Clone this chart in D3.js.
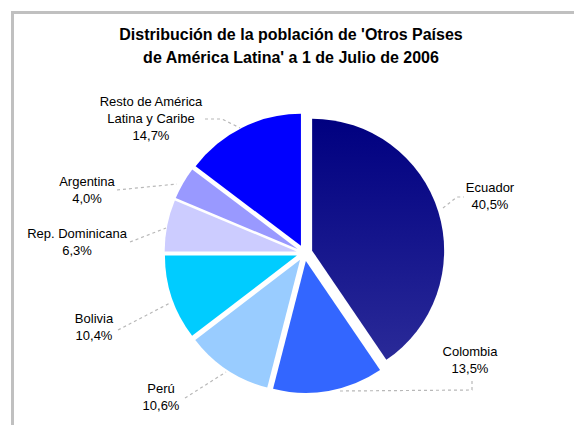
<!DOCTYPE html>
<html>
<head>
<meta charset="utf-8">
<script src="https://cdn.jsdelivr.net/npm/d3@7"></script>
<style>
  body { margin: 0; background: #fff; }
  text { font-family: "Liberation Sans", Arial, sans-serif; fill: #000; }
</style>
</head>
<body>
<div id="chart"></div>
<script>
const countries = ['Ecuador', 'Colombia', 'Perú', 'Bolivia', 'Rep. Dominicana', 'Argentina', 'Resto de América Latina y Caribe']
const shares = [40.5, 13.5, 10.6, 10.4, 6.3, 4.0, 14.7]
const colors = ['url(#ecuadorGrad)', '#3366ff', '#99ccff', '#00ccff', '#ccccff', '#9999ff', '#0000ff']
// label text lines (without the value) and where they sit
const labelLines = [['Ecuador'], ['Colombia'], ['Perú'], ['Bolivia'], ['Rep. Dominicana'], ['Argentina'], ['Resto de América', 'Latina y Caribe']]
const labelPos = [[490, 192], [470, 356], [161, 393], [94, 323], [77, 238], [87, 186], [151, 106]]
// leader lines, [x1, y1, x2, y2, ...]
const leaders = [
  [443, 208, 457, 197, 464, 197],
  [340, 391, 472, 390, 472, 380],
  [185, 398, 226, 372],
  [118, 330, 170, 303],
  [130, 242, 166, 228],
  [117, 190, 177, 184],
  [205, 119, 222, 119, 240, 128]
]

const width = 574
const height = 425
const cx = 304.5
const cy = 253
const radius = 132
const explode = 8

const svg = d3.select('#chart')
  .append('svg')
  .attr('width', width)
  .attr('height', height)

const defs = svg.append('defs')
const grad = defs.append('linearGradient')
  .attr('id', 'ecuadorGrad')
  .attr('x1', 0).attr('y1', 0).attr('x2', 0).attr('y2', 1)
grad.append('stop').attr('offset', '0%').attr('stop-color', '#000080')
grad.append('stop').attr('offset', '100%').attr('stop-color', '#2a2a98')

// chart area frame (only top and left edges are visible in the window)
svg.append('rect')
  .attr('x', 12.5)
  .attr('y', 12.5)
  .attr('width', 700)
  .attr('height', 600)
  .attr('fill', 'none')
  .attr('stroke', '#c0c0c0')
  .attr('stroke-width', 3)

const title = svg.append('text')
  .attr('text-anchor', 'middle')
  .style('font-size', '16px')
  .style('font-weight', 'bold')
title.append('tspan').attr('x', 291).attr('y', 40).text("Distribución de la población de 'Otros Países")
title.append('tspan').attr('x', 291).attr('y', 63).text("de América Latina' a 1 de Julio de 2006")

const pie = d3.pie().sort(null).value(d => d)
const arcs = pie(shares)
const arc = d3.arc().innerRadius(0).outerRadius(radius)

// leader lines drawn under the slices
svg.append('g')
  .selectAll('polyline')
  .data(leaders)
  .join('polyline')
  .attr('points', d => d3.range(0, d.length, 2).map(i => d[i] + ',' + d[i + 1]).join(' '))
  .attr('fill', 'none')
  .attr('stroke', '#b8b8b8')
  .attr('stroke-width', 1.2)
  .attr('stroke-dasharray', '3,3')

svg.append('g')
  .attr('transform', `translate(${cx},${cy})`)
  .selectAll('path')
  .data(arcs)
  .join('path')
  .attr('transform', d => {
    const a = (d.startAngle + d.endAngle) / 2
    return `translate(${explode * Math.sin(a)},${-explode * Math.cos(a)})`
  })
  .attr('d', arc)
  .attr('fill', (d, i) => colors[i])

const labels = svg.append('g')
  .selectAll('text')
  .data(countries)
  .join('text')
  .attr('text-anchor', 'middle')
  .style('font-size', '13px')

labels.each(function (d, i) {
  const t = d3.select(this)
  const lines = labelLines[i].concat([d3.format('.1f')(shares[i]).replace('.', ',') + '%'])
  lines.forEach((line, j) => {
    t.append('tspan')
      .attr('x', labelPos[i][0])
      .attr('y', labelPos[i][1] + j * 17)
      .text(line)
  })
})
</script>
</body>
</html>
